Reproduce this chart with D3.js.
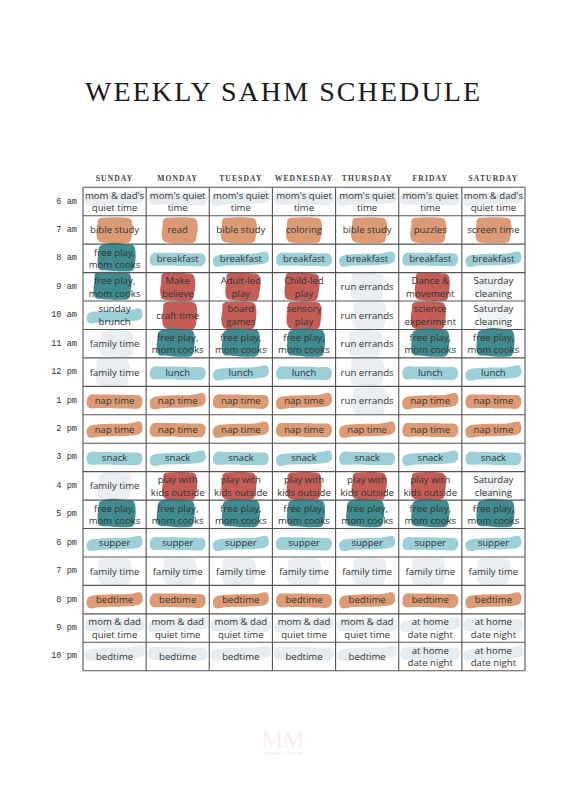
<!DOCTYPE html>
<html>
<head>
<meta charset="utf-8">
<script src="https://cdn.jsdelivr.net/npm/d3@7"></script>
<style>
  html, body { margin: 0; padding: 0; background: #ffffff; }
  svg { display: block; }
</style>
</head>
<body>
<svg id="chart" width="564" height="797"></svg>
<script>
// ---------------- DATA ----------------
const title = "WEEKLY SAHM SCHEDULE";
const days = ["SUNDAY", "MONDAY", "TUESDAY", "WEDNESDAY", "THURSDAY", "FRIDAY", "SATURDAY"];
const times = ["6 am", "7 am", "8 am", "9 am", "10 am", "11 am", "12 pm", "1 pm", "2 pm",
               "3 pm", "4 pm", "5 pm", "6 pm", "7 pm", "8 pm", "9 pm", "10 pm"];

const sunday = ["mom & dad's|quiet time", "bible study", "free play,|mom cooks", "free play,|mom cooks",
  "sunday|brunch", "family time", "family time", "nap time", "nap time", "snack", "family time",
  "free play,|mom cooks", "supper", "family time", "bedtime", "mom & dad|quiet time", "bedtime"];
const monday = ["mom's quiet|time", "read", "breakfast", "Make|believe", "craft time",
  "free play,|mom cooks", "lunch", "nap time", "nap time", "snack", "play with|kids outside",
  "free play,|mom cooks", "supper", "family time", "bedtime", "mom & dad|quiet time", "bedtime"];
const tuesday = ["mom's quiet|time", "bible study", "breakfast", "Adult-led|play", "board|games",
  "free play,|mom cooks", "lunch", "nap time", "nap time", "snack", "play with|kids outside",
  "free play,|mom cooks", "supper", "family time", "bedtime", "mom & dad|quiet time", "bedtime"];
const wednesday = ["mom's quiet|time", "coloring", "breakfast", "Child-led|play", "sensory|play",
  "free play,|mom cooks", "lunch", "nap time", "nap time", "snack", "play with|kids outside",
  "free play,|mom cooks", "supper", "family time", "bedtime", "mom & dad|quiet time", "bedtime"];
const thursday = ["mom's quiet|time", "bible study", "breakfast", "run errands", "run errands",
  "run errands", "run errands", "run errands", "nap time", "snack", "play with|kids outside",
  "free play,|mom cooks", "supper", "family time", "bedtime", "mom & dad|quiet time", "bedtime"];
const friday = ["mom's quiet|time", "puzzles", "breakfast", "Dance &|movement", "science|experiment",
  "free play,|mom cooks", "lunch", "nap time", "nap time", "snack", "play with|kids outside",
  "free play,|mom cooks", "supper", "family time", "bedtime", "at home|date night", "at home|date night"];
const saturday = ["mom & dad's|quiet time", "screen time", "breakfast", "Saturday|cleaning", "Saturday|cleaning",
  "free play,|mom cooks", "lunch", "nap time", "nap time", "snack", "Saturday|cleaning",
  "free play,|mom cooks", "supper", "family time", "bedtime", "at home|date night", "at home|date night"];

// activity kind per cell: q = quiet, l = learning, f = free play, m = meal, a = activity,
// h = home/family, r = rest, c = cleaning
const sundayKind    = ["q","l","f","f","m","h","h","r","r","m","h","f","m","h","r","q","q"];
const mondayKind    = ["q","l","m","a","a","f","m","r","r","m","a","f","m","h","r","q","q"];
const tuesdayKind   = ["q","l","m","a","a","f","m","r","r","m","a","f","m","h","r","q","q"];
const wednesdayKind = ["q","l","m","a","a","f","m","r","r","m","a","f","m","h","r","q","q"];
const thursdayKind  = ["q","l","m","h","h","h","h","h","r","m","a","f","m","h","r","q","q"];
const fridayKind    = ["q","l","m","a","a","f","m","r","r","m","a","f","m","h","r","q","q"];
const saturdayKind  = ["q","l","m","c","c","f","m","r","r","m","c","f","m","h","r","q","q"];

const schedule = [sunday, monday, tuesday, wednesday, thursday, friday, saturday];
const kinds = [sundayKind, mondayKind, tuesdayKind, wednesdayKind, thursdayKind, fridayKind, saturdayKind];

// ---------------- STYLE ----------------
const kindStyle = {
  q: { color: "#e6ecef", shape: "stroke", w: 58, h: 12, dy: -3 },
  l: { color: "#dd9b75", shape: "blob",   w: 34, h: 26, dy: 0 },
  f: { color: "#408b90", shape: "blob",   w: 36, h: 28, dy: -1 },
  m: { color: "#9ccfd6", shape: "stroke", w: 54, h: 12, dy: 1 },
  a: { color: "#c35d56", shape: "blob",   w: 33, h: 28, dy: 0 },
  h: { color: "#e8eef1", shape: "blob",   w: 32, h: 27, dy: 0 },
  r: { color: "#dd9b75", shape: "stroke", w: 54, h: 13, dy: 1 },
  c: { color: "#eff3f5", shape: "blob",   w: 30, h: 26, dy: 0 }
};

const svg = d3.select("#chart");

const gridLeft = 83, gridRight = 525, gridTop = 187.3, gridBottom = 670.7;

const x = d3.scaleBand().domain(days).range([gridLeft, gridRight]).paddingInner(0).paddingOuter(0);
const y = d3.scaleBand().domain(times).range([gridTop, gridBottom]).paddingInner(0).paddingOuter(0);

// Title
svg.append("text")
  .attr("x", 85).attr("y", 101)
  .attr("textLength", 395).attr("lengthAdjust", "spacing")
  .attr("font-family", "'Liberation Serif', 'DejaVu Serif', serif")
  .attr("font-size", 28)
  .attr("fill", "#1a1a1a")
  .text(title);

// Shapes
const lineGen = d3.line().curve(d3.curveCatmullRomClosed.alpha(0.5));

function blobPoints(w, h, v) {
  const a = (v % 3) - 1, b = ((v + 1) % 3) - 1;
  return [
    [-w/2 + 1, -h/2 + 2 + a], [-w/6, -h/2 + b * 0.5], [w/4, -h/2 + 0.5], [w/2 - 1, -h/2 + 2],
    [w/2 + 1, -h/6], [w/2, h/4 + a], [w/2 - 2, h/2 - 1],
    [w/5, h/2], [-w/4, h/2 - 0.5 + b * 0.5], [-w/2 + 1, h/2 - 2],
    [-w/2 - 1, h/5], [-w/2, -h/5]
  ];
}
function strokePoints(w, h, v) {
  const t = (v % 2 === 0) ? 1.5 : -1;   // slight tilt
  return [
    [-w/2 + 2, -h/2 + 1 + t], [-w/4, -h/2 + t * 0.5], [w/4, -h/2], [w/2 - 1, -h/2 - t],
    [w/2 + 1, -t * 0.3], [w/2 - 2, h/2 - 1 - t], [w/4, h/2 - t * 0.5],
    [-w/4, h/2], [-w/2 + 1, h/2 + t * 0.5], [-w/2 - 1, t * 0.3]
  ];
}

const cells = [];
days.forEach((d, i) => {
  times.forEach((t, j) => {
    cells.push({ day: d, time: t, i, j, text: schedule[i][j], kind: kinds[i][j] });
  });
});

const gShapes = svg.append("g");
gShapes.selectAll("path")
  .data(cells)
  .join("path")
  .attr("transform", c => {
    const s = kindStyle[c.kind];
    const dx = s.shape === "blob" ? ((c.i + c.j) % 3 - 1) * 2 : 0;
    const cx = x(c.day) + x.bandwidth() / 2 + dx;
    const cy = y(c.time) + y.bandwidth() / 2 + s.dy;
    return `translate(${cx},${cy})`;
  })
  .attr("d", c => {
    const s = kindStyle[c.kind];
    const v = c.i * 3 + c.j;
    return lineGen(s.shape === "blob" ? blobPoints(s.w, s.h, v) : strokePoints(s.w, s.h, v));
  })
  .attr("fill", c => kindStyle[c.kind].color);

// Cell text: one text element per line
const lh = 12.6;
const textLines = [];
cells.forEach(c => {
  const lines = c.text.split("|");
  lines.forEach((ln, k) => {
    textLines.push({ c, ln, off: (k - (lines.length - 1) / 2) * lh });
  });
});

svg.append("g")
  .attr("font-family", "'Open Sans', 'Noto Sans', sans-serif")
  .attr("font-size", 9.6)
  .attr("fill", "#333333")
  .attr("text-anchor", "middle")
  .selectAll("text")
  .data(textLines)
  .join("text")
  .attr("x", d => x(d.c.day) + x.bandwidth() / 2)
  .attr("y", d => y(d.c.time) + y.bandwidth() / 2 + d.off)
  .attr("dominant-baseline", "central")
  .text(d => d.ln);

// Grid lines
const gGrid = svg.append("g").attr("stroke", "#555555").attr("stroke-width", 1.1).attr("fill", "none");
const colEdges = days.map(d => x(d)).concat([gridRight]);
const rowEdges = times.map(t => y(t)).concat([gridBottom]);
gGrid.selectAll("line.v").data(colEdges).join("line")
  .attr("class", "v")
  .attr("x1", d => d).attr("x2", d => d)
  .attr("y1", gridTop).attr("y2", gridBottom);
gGrid.selectAll("line.h").data(rowEdges).join("line")
  .attr("class", "h")
  .attr("x1", gridLeft).attr("x2", gridRight)
  .attr("y1", d => d).attr("y2", d => d);

// Day headers
svg.append("g")
  .selectAll("text")
  .data(days)
  .join("text")
  .attr("x", d => x(d) + x.bandwidth() / 2)
  .attr("y", 181)
  .attr("text-anchor", "middle")
  .attr("font-family", "'Liberation Serif', 'DejaVu Serif', serif")
  .attr("font-weight", "bold")
  .attr("font-size", 7.6)
  .attr("letter-spacing", 1.1)
  .attr("fill", "#444444")
  .text(d => d);

// Time labels
svg.append("g")
  .selectAll("text")
  .data(times)
  .join("text")
  .attr("x", 77)
  .attr("y", t => y(t) + y.bandwidth() / 2 + 2)
  .attr("text-anchor", "end")
  .attr("font-family", "'Liberation Mono', 'DejaVu Sans Mono', monospace")
  .attr("font-size", 8.6)
  .attr("fill", "#333333")
  .text(t => t);

// Faint logo
const logo = svg.append("g").attr("transform", "translate(283,740)").attr("opacity", 0.5);
logo.append("text")
  .attr("text-anchor", "middle").attr("y", 7)
  .attr("font-family", "'Liberation Serif', serif").attr("font-size", 24)
  .attr("fill", "#f2dde0").text("MM");
logo.append("text")
  .attr("text-anchor", "middle").attr("y", 15)
  .attr("font-family", "'Liberation Sans', sans-serif").attr("font-size", 3.5)
  .attr("letter-spacing", 0.8)
  .attr("fill", "#b8cdd8").text("MINIMALISTMOM");
</script>
</body>
</html>
